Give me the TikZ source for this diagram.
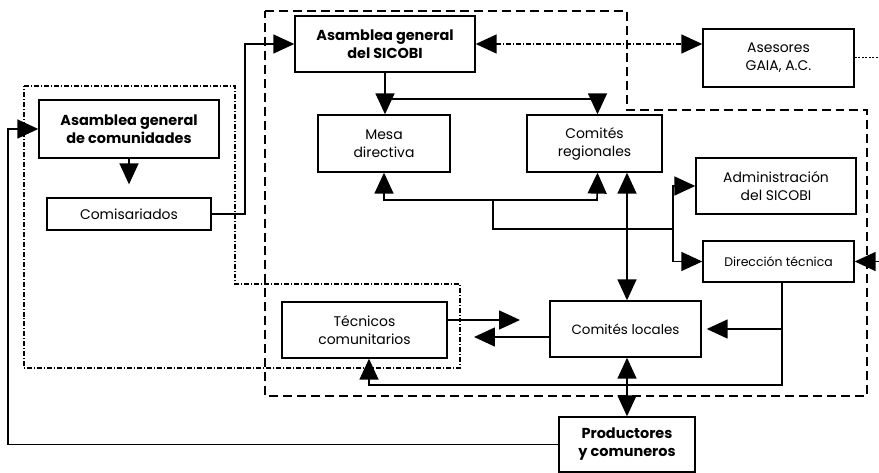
\documentclass[tikz,border=0pt]{standalone}
\usepackage{fontspec}
\setmainfont{Poppins}
\usetikzlibrary{arrows.meta}
\begin{document}
\begin{tikzpicture}[x=1bp,y=-1bp,
  box/.style={draw,line width=1.4pt,align=center,inner sep=0pt,font=\fontsize{14}{18}\selectfont},
  bbox/.style={box,font=\fontsize{14.5}{18}\selectfont\bfseries},
  conn/.style={line width=1.6pt},
  arr/.style={conn,-{Triangle[length=21pt,width=19pt]}},
  arrb/.style={conn,{Triangle[length=21pt,width=19pt]}-{Triangle[length=21pt,width=19pt]}},
  regdash/.style={line width=1.3pt,dash pattern=on 9pt off 5pt},
  regdot/.style={line width=1.3pt,dash pattern=on 5pt off 2pt on 1pt off 2pt},
]
\useasboundingbox (0,0) rectangle (879,473);
% regions
\draw[regdot] (24,86) -- (235,86) -- (235,284) -- (460,284) -- (460,368) -- (24,368) -- cycle;
\draw[regdash] (265,11) -- (627,11) -- (627,110) -- (867,110) -- (867,396) -- (265,396) -- cycle;
% nodes
\node[bbox,minimum width=180bp,minimum height=56bp] (sicobi) at (385,44) {Asamblea general\\del SICOBI};
\node[box,minimum width=151bp,minimum height=58bp] (asesores) at (778.5,58) {Asesores\\GAIA, A.C.};
\node[bbox,minimum width=180bp,minimum height=58bp] (comun) at (129,129) {Asamblea general\\de comunidades};
\node[box,minimum width=164bp,minimum height=32bp] (comis) at (129,214) {Comisariados};
\node[box,minimum width=132bp,minimum height=57bp] (mesa) at (384,143.5) {Mesa\\directiva};
\node[box,minimum width=135bp,minimum height=57bp] (regio) at (594.5,143.5) {Comités\\regionales};
\node[box,minimum width=160bp,minimum height=56bp] (admin) at (776,186) {Administración\\del SICOBI};
\node[box,minimum width=151bp,minimum height=41bp,font=\fontsize{12.5}{16}\selectfont] (direc) at (778.5,261.5) {Dirección técnica};
\node[box,minimum width=165bp,minimum height=56bp] (tecn) at (364.5,330) {Técnicos\\comunitarios};
\node[box,minimum width=151bp,minimum height=56bp,font=\fontsize{13.5}{17}\selectfont] (local) at (625.5,329) {Comités locales};
\node[bbox,minimum width=136bp,minimum height=55bp] (prod) at (627,444.5) {Productores\\y comuneros};
% free ends
\coordinate (rightA) at (879,58);
\coordinate (rightD) at (879,261.5);
\coordinate (tecTip) at (520,320);
\coordinate (locTip) at (474,337);
\coordinate (split) at (493,200);
\coordinate (fork) at (673,229);
\coordinate (dlow) at (782,385);
\coordinate (dmid) at (782,329);
% connectors
\draw[arr] (comis.east) -- (245,214) |- (sicobi.west);
\draw[arr,shorten >=13pt] (comun.south) -- (comis.north);
\draw[arr] (sicobi.south) -- (sicobi.south |- mesa.north);
\draw[arr] (sicobi.south |- 0,99) -| ([xshift=3bp]regio.north);
\draw[arrb] (mesa.south) |- (597,200) -- ([xshift=3bp]regio.south);
\draw[conn] (split) |- (fork);
\draw[arr] (fork) |- (admin.west);
\draw[arr] (fork) |- (direc.west);
\draw[arrb] (prod.north |- regio.south) -- (prod.north |- local.north);
\draw[arr] ([yshift=10bp]tecn.east) -- (tecTip);
\draw[arr] ([yshift=-8bp]local.west) -- (locTip);
\draw[arr] (direc.south -| dlow) -- (dlow) -| (tecn.south -| 369,0);
\draw[arr] (dmid) -- ([xshift=5bp]local.east);
\draw[arrb] (prod.north |- local.south) -- (prod.north);
\draw[arr] (prod.west) -| (8,129) -- (comun.west);
\draw[arrb,dash pattern=on 5pt off 2pt on 1pt off 2pt] (sicobi.east) -- (asesores.west |- sicobi.east);
\draw[conn,line width=1pt,dash pattern=on 2pt off 1.5pt] (asesores.east) -- (rightA);
\draw[arr] (rightD) -- (direc.east);
\end{tikzpicture}
\end{document}
